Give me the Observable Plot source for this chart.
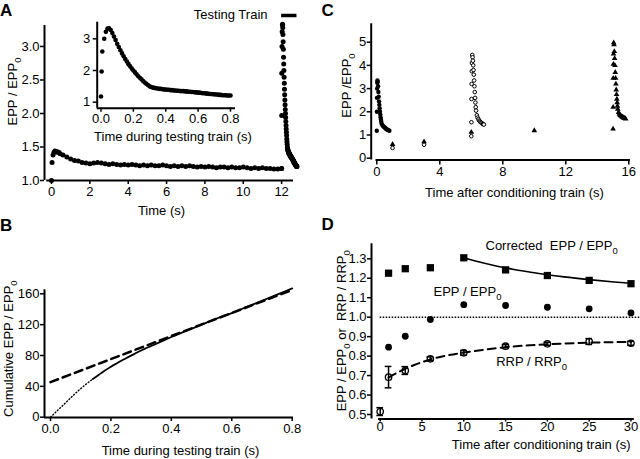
<!DOCTYPE html>
<html><head><meta charset="utf-8">
<script src="https://cdn.jsdelivr.net/npm/d3@7"></script>
<script src="https://cdn.jsdelivr.net/npm/@observablehq/plot@0.6"></script>
<style>
html,body{margin:0;padding:0;background:#fff;}
#fig{position:relative;width:640px;height:459px;overflow:hidden;background:#fff;}
#fig svg{position:absolute;}
</style></head><body><div id="fig"></div>
<script>
// ================= DATA =================
// Panel A: conditioning train (s, EPP/EPP0)
const condTimes = [0, 0.03, 0.08, 0.13, 0.18, 0.23, 0.28, 0.33, 0.38, 0.45, ...d3.range(3, 61).map(i => i / 5)];
const condValues = [1.00, 1.27, 1.38, 1.42, 1.44, 1.43, 1.43, 1.42, 1.42, 1.40,
  1.38, 1.35, 1.32, 1.30, 1.29, 1.27, 1.26, 1.25,
  1.26, 1.27, 1.26, 1.25, 1.24, 1.25, 1.24, 1.23, 1.24, 1.23,
  1.24, 1.23, 1.22, 1.23, 1.22, 1.23, 1.22, 1.22, 1.23, 1.22,
  1.21, 1.22, 1.21, 1.22, 1.21, 1.22, 1.21, 1.20, 1.21, 1.20,
  1.21, 1.20, 1.19, 1.20, 1.20, 1.19, 1.20, 1.19, 1.19, 1.20,
  1.19, 1.18, 1.19, 1.18, 1.19, 1.18, 1.18, 1.17, 1.17, 1.18];
// Testing train (time during train, EPP/EPP0)
const testTimes = [0, 0.004, 0.008, ...d3.range(2, 81).map(i => i / 100)];
const testValues = [1.18, 1.97, 2.60,
  3.00, 3.22, 3.32, 3.33, 3.28, 3.18, 3.07, 2.96, 2.84, 2.74,
  2.64, 2.54, 2.45, 2.36, 2.28, 2.20, 2.13, 2.06, 2.00, 1.94,
  1.88, 1.82, 1.77, 1.72, 1.67, 1.62, 1.58, 1.54, 1.50, 1.48,
  1.46, 1.45, 1.44, 1.43, 1.42, 1.42, 1.41, 1.40, 1.40, 1.39,
  1.39, 1.38, 1.38, 1.37, 1.37, 1.36, 1.36, 1.35, 1.35, 1.35,
  1.34, 1.34, 1.33, 1.33, 1.32, 1.32, 1.31, 1.31, 1.30, 1.30,
  1.29, 1.28, 1.28, 1.27, 1.27, 1.26, 1.26, 1.25, 1.25, 1.24,
  1.24, 1.23, 1.23, 1.22, 1.22, 1.22, 1.21, 1.21, 1.21];
const testStart = 12;
const testDuration = 0.8;
const aXTicks = [0, 2, 4, 6, 8, 10, 12];
const aYTicks = [1.0, 1.5, 2.0, 2.5, 3.0];
const insetXTicks = [0, 0.2, 0.4, 0.6, 0.8];
const insetYTicks = [1, 2, 3];

// Panel B: cumulative EPP/EPP0 and linear fit of the late part
const cumTimes = [0, 0.02, 0.04, 0.06, 0.08, 0.10, 0.12, 0.14, 0.16, 0.18, 0.20, 0.22, 0.24, 0.26, 0.28, 0.30, 0.32, 0.36, 0.40, 0.45, 0.50, 0.55, 0.60, 0.65, 0.70, 0.75, 0.80];
const cumValues = [0, 7.5, 15, 22.5, 30, 37, 43.5, 49.5, 55, 60.5, 65.5, 70, 74.5, 78.5, 82.5, 86.5, 90, 97, 104, 112, 120, 128, 135, 143, 151, 159, 167];
const dottedUntil = 0.14;
const fitTimes = [0, 0.8];
const fitValues = [45.5, 165];
const bXTicks = [0, 0.2, 0.4, 0.6, 0.8];
const bYTicks = [0, 40, 80, 120, 160];

// Panel C: testing trains at 0, 6 and 15 s after conditioning train
const trainOffsets = [0, 0.005, 0.01, 0.02, 0.03, 0.04, 0.06, 0.08, 0.10, 0.12, 0.14, 0.16, 0.18, 0.20, 0.22, 0.24, 0.26, 0.28, 0.30, 0.35, 0.40, 0.45, 0.50, 0.55, 0.60, 0.65, 0.70, 0.75, 0.80];
const trainAt0 = [1.18, 2.0, 2.6, 3.0, 3.25, 3.35, 3.3, 3.1, 2.85, 2.65, 2.45, 2.3, 2.15, 2.0, 1.88, 1.77, 1.67, 1.58, 1.5, 1.43, 1.39, 1.35, 1.32, 1.29, 1.26, 1.24, 1.22, 1.2, 1.18];
const trainAt6 = [0.95, 1.55, 2.55, 3.2, 3.75, 4.1, 4.45, 4.35, 4.2, 4.0, 3.8, 3.6, 3.35, 3.1, 2.85, 2.6, 2.4, 2.2, 2.05, 1.85, 1.75, 1.68, 1.62, 1.58, 1.55, 1.52, 1.49, 1.47, 1.45];
const trainAt15 = [1.26, 2.2, 3.45, 4.05, 4.5, 4.98, 4.9, 4.6, 4.3, 4.0, 3.7, 3.45, 3.2, 2.95, 2.75, 2.55, 2.4, 2.25, 2.12, 1.98, 1.9, 1.85, 1.82, 1.79, 1.77, 1.75, 1.73, 1.72, 1.7];
const trainStarts = [0, 6, 15];
const singleTriT = [1, 3, 6, 10];
const singleTriV = [0.6, 0.71, 1.12, 1.19];
const singleOpenT = [1, 3];
const singleOpenV = [0.44, 0.58];
const cXTicks = [0, 4, 8, 12, 16];
const cYTicks = [0, 1, 2, 3, 4, 5];

// Panel D
const dTimes = [1, 3, 6, 10, 15, 20, 25, 30];
const correctedEPP = [1.226, 1.249, 1.254, 1.305, 1.243, 1.214, 1.189, 1.172];
const eppRatio = [0.846, 0.902, 0.988, 1.064, 1.06, 1.051, 1.043, 1.022];
const rrpTimes = [0, 1, 3, 6, 10, 15, 20, 25, 30];
const rrpRatio = [0.515, 0.692, 0.726, 0.786, 0.817, 0.851, 0.863, 0.875, 0.866];
const rrpError = [0.02, 0.055, 0.02, 0.01, 0.012, 0.008, 0.008, 0.015, 0.01];
const corrFitT = [10, 12, 14, 16, 18, 20, 22, 25, 28, 30];
const corrFitV = [1.305, 1.282, 1.262, 1.245, 1.231, 1.218, 1.207, 1.193, 1.181, 1.174];
const rrpFitT = [1, 2, 3, 4, 5, 6, 8, 10, 12, 15, 18, 20, 25, 30];
const rrpFitV = [0.69, 0.714, 0.735, 0.753, 0.769, 0.783, 0.803, 0.818, 0.83, 0.846, 0.856, 0.861, 0.869, 0.873];
const baseline = 1.0;
const dXTicks = [0, 5, 10, 15, 20, 25, 30];
const dYTicks = [0.5, 0.6, 0.7, 0.8, 0.9, 1.0, 1.1, 1.2, 1.3];

// ================= DRAWING =================
const fig = document.getElementById("fig");
const FONT = "'Liberation Sans', Arial, Helvetica, sans-serif";
const zip = (xs, ys) => xs.map((x, i) => ({x, y: ys[i]}));

function subscriptify(svg) {
  svg.querySelectorAll("text").forEach(t => {
    if (t.children.length || !t.textContent.includes("\u2080")) return;
    const parts = t.textContent.split("\u2080");
    t.textContent = "";
    parts.forEach((p, i) => {
      if (i > 0 && p === "") return;
      const s = document.createElementNS("http://www.w3.org/2000/svg", "tspan");
      s.textContent = p;
      if (i > 0) s.setAttribute("dy", "-4");
      t.appendChild(s);
      if (i < parts.length - 1) {
        const sub = document.createElementNS("http://www.w3.org/2000/svg", "tspan");
        sub.textContent = "0";
        sub.setAttribute("dy", "4");
        sub.setAttribute("font-size", "9.5");
        t.appendChild(sub);
      }
    });
  });
}

function panel(opts, left, top) {
  const svg = Plot.plot({...opts, style: {background: "transparent", overflow: "visible", fontFamily: FONT, fontSize: "13px", color: "black"}});
  svg.style.left = left + "px";
  svg.style.top = top + "px";
  subscriptify(svg);
  fig.appendChild(svg);
}

function axes({xDom, yDom, xLine, yLine, xTicks, yTicks, xFmt, yFmt, xTick = 4, yTick = 4, xPad = 2, yPad = 2}) {
  return [
    Plot.ruleX([0], {x: () => xDom[0], y1: () => (yLine || yDom)[0], y2: () => (yLine || yDom)[1], strokeWidth: 2}),
    Plot.ruleY([0], {y: () => yDom[0], x1: () => (xLine || xDom)[0], x2: () => (xLine || xDom)[1], strokeWidth: 2}),
    Plot.axisX({ticks: xTicks, tickFormat: xFmt, tickSize: xTick, tickPadding: xPad, fontSize: 13, strokeWidth: 1.5, label: null}),
    Plot.axisY({ticks: yTicks, tickFormat: yFmt, tickSize: yTick, tickPadding: yPad, fontSize: 13, strokeWidth: 1.5, label: null})
  ];
}
const lab = (s, o) => Plot.text([s], {text: d => d, fontSize: 13, textAnchor: "middle", lineAnchor: "middle", fill: "black", ...o});

// ---- Panel A main ----
const aX = [-0.365, 12.62], aY = [1, 3.313];
const condRows = zip(condTimes, condValues);
const testRows = zip(testTimes, testValues);
panel({
  width: 320, height: 230, marginLeft: 44, marginRight: 27, marginTop: 25, marginBottom: 50,
  x: {domain: aX}, y: {domain: aY},
  marks: [
    ...axes({xDom: aX, yDom: aY, xLine: [-0.25, 12.62], xTicks: aXTicks, yTicks: aYTicks, xFmt: "d", yFmt: ".1f", yPad: 1}),
    Plot.dot(condRows, {x: "x", y: "y", r: 2.5, fill: "black"}),
    Plot.dot(testRows, {x: d => testStart + d.x, y: "y", r: 2.5, fill: "black"}),
    Plot.ruleY([{start: testStart, end: testStart + testDuration}], {x1: "start", x2: "end", y: () => aY[1], dy: -10, strokeWidth: 3.5}),
    lab("Testing Train", {frameAnchor: "top-right", textAnchor: "end", dx: -26, dy: -11}),
    lab("EPP / EPP\u2080", {frameAnchor: "left", rotate: -90, dx: -32, dy: -11.5}),
    lab("Time (s)", {frameAnchor: "bottom", dx: -7.5, dy: 30})
  ]
}, 0, 0);

// ---- Panel A inset ----
const iX = [-0.0235, 0.831], iY = [0.81, 3.524];
panel({
  width: 320, height: 230, marginLeft: 96.7, marginRight: 85, marginTop: 21.7, marginBottom: 122.3,
  x: {domain: iX}, y: {domain: iY},
  marks: [
    ...axes({xDom: iX, yDom: iY, xTicks: insetXTicks, yTicks: insetYTicks, xFmt: ".1f", yFmt: "d", yPad: 3}),
    Plot.dot(testRows, {x: "x", y: "y", r: 2.3, fill: "black"}),
    lab("Time during testing train (s)", {frameAnchor: "bottom", dx: 6.6, dy: 29})
  ]
}, 0, 0);

// ---- Panel B ----
const bX = [-0.0199, 0.8044], bY = [-0.39, 165.2];
const cumRows = zip(cumTimes, cumValues);
panel({
  width: 320, height: 229, marginLeft: 44, marginRight: 27, marginTop: 59.3, marginBottom: 42,
  x: {domain: bX}, y: {domain: bY},
  marks: [
    ...axes({xDom: bX, yDom: bY, xTicks: bXTicks, yTicks: bYTicks, xFmt: ".1f", yFmt: "d", yPad: 1}),
    Plot.line(cumRows.filter(d => d.x <= dottedUntil), {x: "x", y: "y", strokeWidth: 1.4, strokeDasharray: "1,2.2", curve: "monotone-x"}),
    Plot.line(cumRows.filter(d => d.x >= dottedUntil), {x: "x", y: "y", strokeWidth: 1.8, curve: "monotone-x"}),
    Plot.line(zip(fitTimes, fitValues), {x: "x", y: "y", strokeWidth: 2.5, strokeDasharray: "8,5"}),
    lab("Cumulative EPP / EPP\u2080", {frameAnchor: "left", rotate: -90, dx: -36, dy: -5}),
    lab("Time during testing train (s)", {frameAnchor: "bottom", dx: 11.5, dy: 33})
  ]
}, 0, 230);

// ---- Panel C ----
const cX = [-0.356, 16.107], cY = [-0.078, 5.793];
const trainRows = (start, vals) => trainOffsets.map((o, i) => ({x: start + o, y: vals[i]}));
panel({
  width: 320, height: 230, marginLeft: 50.7, marginRight: 10, marginTop: 23.3, marginBottom: 70.5,
  x: {domain: cX}, y: {domain: cY},
  marks: [
    ...axes({xDom: cX, yDom: cY, xLine: [-0.05, 16.1], xTicks: cXTicks, yTicks: cYTicks, xFmt: "d", yFmt: "d", yPad: 1, xTick: 5, xPad: 2}),
    Plot.dot(trainRows(trainStarts[0], trainAt0), {x: "x", y: "y", r: 2.2, fill: "black"}),
    Plot.dot(trainRows(trainStarts[1], trainAt6), {x: "x", y: "y", r: 1.8, stroke: "black", strokeWidth: 1, fill: "white"}),
    Plot.dot(zip(singleOpenT, singleOpenV), {x: "x", y: "y", r: 1.8, stroke: "black", strokeWidth: 1, fill: "white"}),
    Plot.dot(trainRows(trainStarts[2], trainAt15), {x: "x", y: "y", r: 2.1, symbol: "triangle", fill: "black"}),
    Plot.dot(zip(singleTriT, singleTriV), {x: "x", y: "y", r: 2.1, symbol: "triangle", fill: "black"}),
    lab("EPP /EPP\u2080", {frameAnchor: "left", rotate: -90, dx: -24.7, dy: -6.4}),
    lab("Time after conditioning train (s)", {frameAnchor: "bottom", dx: 13.6, dy: 33.2})
  ]
}, 320, 0);

// ---- Panel D ----
const dX = [-1.04, 31.14], dY = [0.4769, 1.377];
const rrpRows = rrpTimes.map((t, i) => ({x: t, y: rrpRatio[i], e: rrpError[i]}));
const capHalf = 0.4;
panel({
  width: 320, height: 229, marginLeft: 51, marginRight: 0, marginTop: 13.3, marginBottom: 40.5,
  x: {domain: dX}, y: {domain: dY},
  marks: [
    ...axes({xDom: dX, yDom: dY, xLine: [-0.2, 30.4], xTicks: dXTicks, yTicks: dYTicks, xFmt: "d", yFmt: ".1f", yPad: 1, xTick: 3, xPad: 0}),
    Plot.ruleY([baseline], {x1: () => 0, x2: () => dX[1], strokeWidth: 1.6, strokeDasharray: "1.5,1.5"}),
    Plot.line(zip(corrFitT, corrFitV), {x: "x", y: "y", strokeWidth: 1.6, curve: "monotone-x"}),
    Plot.line(zip(rrpFitT, rrpFitV), {x: "x", y: "y", strokeWidth: 2, strokeDasharray: "8,5", curve: "monotone-x"}),
    Plot.ruleX(rrpRows, {x: "x", y1: d => d.y - d.e, y2: d => d.y + d.e, strokeWidth: 1.5}),
    Plot.ruleY(rrpRows, {y: d => d.y + d.e, x1: d => d.x - capHalf, x2: d => d.x + capHalf, strokeWidth: 1.5}),
    Plot.ruleY(rrpRows, {y: d => d.y - d.e, x1: d => d.x - capHalf, x2: d => d.x + capHalf, strokeWidth: 1.5}),
    Plot.dot(rrpRows, {x: "x", y: "y", r: 3.2, stroke: "black", strokeWidth: 1.3, fill: "none"}),
    Plot.dot(zip(dTimes, eppRatio), {x: "x", y: "y", r: 3.4, fill: "black"}),
    Plot.dot(zip(dTimes, correctedEPP), {x: "x", y: "y", r: 4.1, symbol: "square", fill: "black"}),
    lab("Corrected  EPP / EPP\u2080", {frameAnchor: "top-left", textAnchor: "start", dx: 114, dy: 1.7}),
    lab("EPP / EPP\u2080", {frameAnchor: "top-left", textAnchor: "start", dx: 62, dy: 48.4}),
    lab("RRP / RRP\u2080", {frameAnchor: "top-left", textAnchor: "start", dx: 124.7, dy: 118.4}),
    lab("EPP / EPP\u2080 or  RRP / RRP\u2080", {frameAnchor: "left", rotate: -90, dx: -30, dy: -0.6}),
    lab("Time after conditioning train (s)", {frameAnchor: "bottom", dx: 35.2, dy: 26})
  ]
}, 320, 230);

// ---- Panel letters ----
const letters = [["A", 0, 15.5], ["B", 0, 231], ["C", 321.5, 15.5], ["D", 321.5, 230]];
const ns = "http://www.w3.org/2000/svg";
const ov = document.createElementNS(ns, "svg");
ov.setAttribute("width", 640); ov.setAttribute("height", 459);
ov.style.left = "0px"; ov.style.top = "0px";
letters.forEach(([s, x, y]) => {
  const t = document.createElementNS(ns, "text");
  t.setAttribute("x", x); t.setAttribute("y", y);
  t.setAttribute("font-family", FONT); t.setAttribute("font-size", "17"); t.setAttribute("font-weight", "bold");
  t.textContent = s;
  ov.appendChild(t);
});
fig.appendChild(ov);
</script></body></html>
